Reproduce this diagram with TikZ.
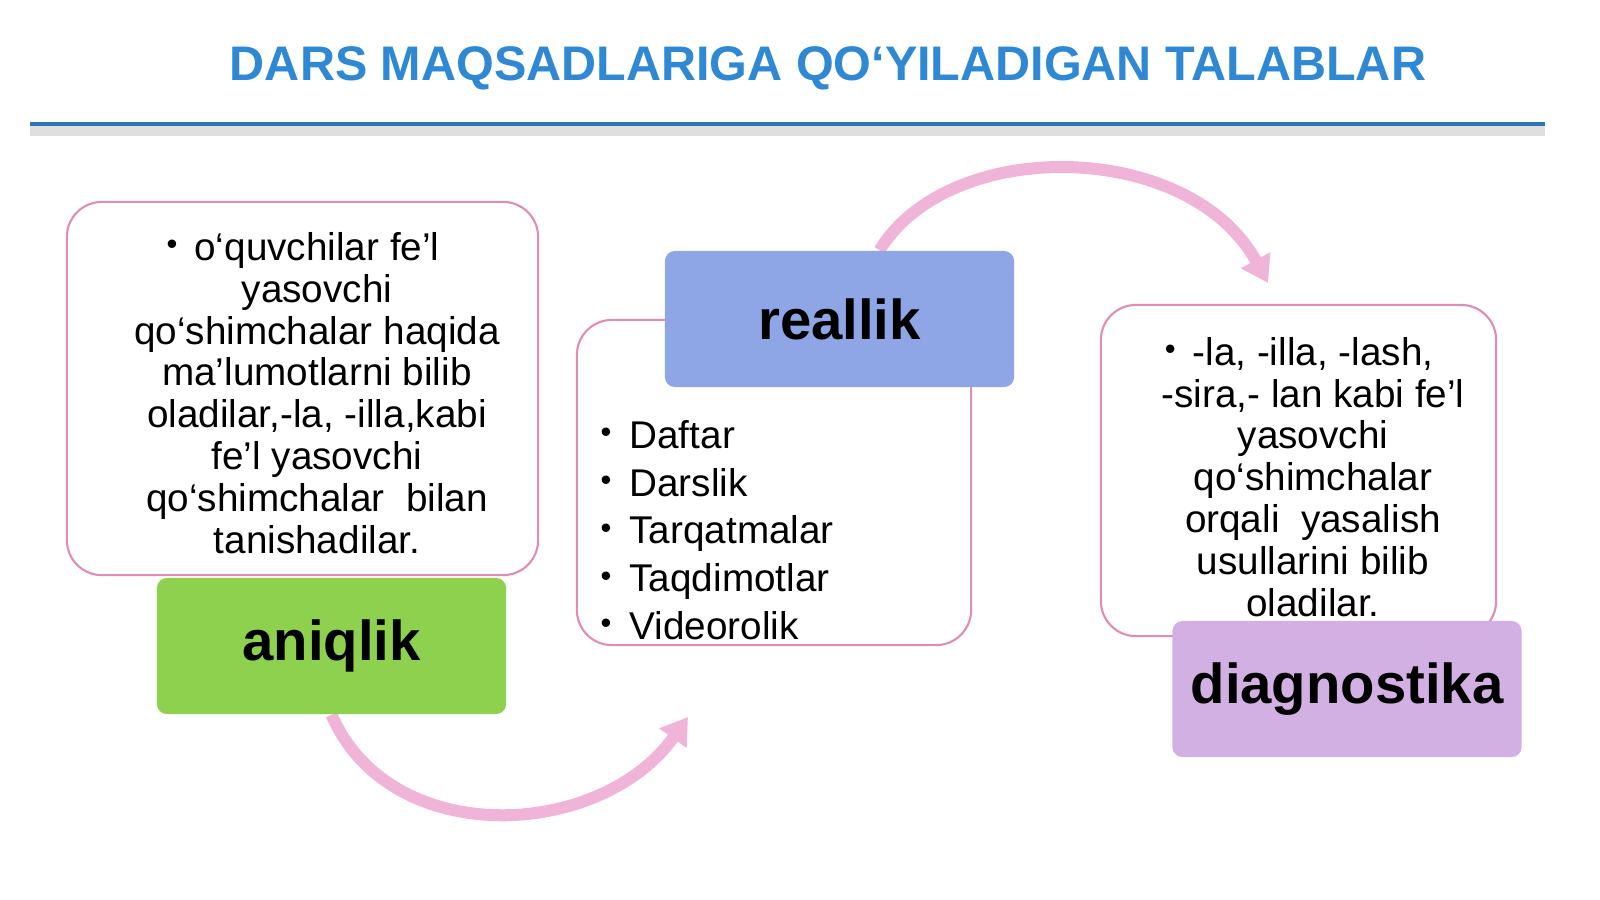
\documentclass[tikz,border=0pt]{standalone}
\usepackage{fontspec}
\setmainfont{Liberation Sans}
\usetikzlibrary{arrows.meta,backgrounds}
\definecolor{titleblue}{HTML}{2E88D4}
\definecolor{ruleblue}{HTML}{2E75B6}
\definecolor{framepink}{HTML}{E28CB5}
\definecolor{arrowpink}{HTML}{F0B4D8}
\definecolor{aniqgreen}{HTML}{8ED14F}
\definecolor{realblue}{HTML}{8EA6E6}
\definecolor{diagviolet}{HTML}{D3B0E3}
\newcommand{\smallbullet}{\raisebox{1.6pt}{\scalebox{0.8}{\textbullet}}}
\newcommand{\hangbullet}{\llap{\smallbullet\hspace{4.8pt}}}
\newcommand{\listbullet}{\makebox[8.2pt][l]{\smallbullet}}
\tikzset{
    goalbox/.style={draw=framepink, line width=0.6pt, fill=white,
        rounded corners=0.35cm, inner sep=0pt},
    headbox/.style={rounded corners=0.1cm, inner sep=0pt,
        minimum width=3.49cm, minimum height=1.36cm,
        font=\fontsize{16}{18}\selectfont\bfseries},
    bodytext/.style={align=center, inner sep=0pt,
        font=\fontsize{11}{11.9}\selectfont},
    cyclearrow/.style={draw=arrowpink, line width=0.12cm,
        -{Triangle[width=0.32cm,length=0.26cm]}}
}

\begin{document}
\begin{tikzpicture}[x=0.01cm, y=-0.01cm]
    \useasboundingbox (0,0) rectangle (1600,899);

    \node (title) at (828,68) [text=titleblue,
        font=\fontsize{13.8}{16}\selectfont\bfseries]
        {DARS MAQSADLARIGA QO‘YILADIGAN TALABLAR};
    \coordinate (ruleL) at (30,124);
    \coordinate (ruleR) at (1545,124);
    \draw[gray!25, line width=3pt] ([yshift=-0.07cm]ruleL) -- ([yshift=-0.07cm]ruleR);
    \draw[ruleblue, line width=1.3pt] (ruleL) -- (ruleR);

    \node[goalbox, minimum width=4.71cm, minimum height=3.73cm] (aniqframe) at (302.5,388.5) {};
    \node[goalbox, minimum width=3.94cm, minimum height=3.25cm] (realframe) at (774,482.5) {};
    \node[goalbox, minimum width=3.95cm, minimum height=3.31cm] (diagframe) at (1298.5,470.5) {};

    \node[bodytext] (aniqtext) at (317,393) {\hangbullet o‘quvchilar fe’l\\
        yasovchi\\ qo‘shimchalar haqida\\ ma’lumotlarni bilib\\
        oladilar,-la, -illa,kabi\\ fe’l yasovchi\\
        qo‘shimchalar~ bilan\\ tanishadilar.};
    \node[bodytext, align=left, anchor=west, font=\fontsize{11}{13.6}\selectfont]
        (realtext) at (600,530) {\listbullet Daftar\\ \listbullet Darslik\\
        \listbullet Tarqatmalar\\ \listbullet Taqdimotlar\\ \listbullet Videorolik};
    \node[bodytext] (diagtext) at (1313,477) {\hangbullet -la, -illa, -lash,\\
        -sira,- lan kabi fe’l\\ yasovchi\\ qo‘shimchalar\\
        orqali~ yasalish\\ usullarini bilib\\ oladilar.};

    \node[headbox, fill=aniqgreen] (aniqlik) at (331.5,646) {aniqlik};
    \node[headbox, fill=realblue] (reallik) at (839.5,319) {reallik};
    \node[headbox, fill=diagviolet] (diagnostika) at (1347,689) {diagnostika};

    \coordinate (tipA) at (688,717);
    \coordinate (tipB) at (1268,283);
    \begin{scope}[on background layer]
        \draw[cyclearrow] (aniqlik.south) .. controls (390,850) and (600,840) .. (tipA);
        \draw[cyclearrow] ([xshift=0.4cm]reallik.north) .. controls (950,135) and (1190,140) .. (tipB);
    \end{scope}
\end{tikzpicture}
\end{document}
